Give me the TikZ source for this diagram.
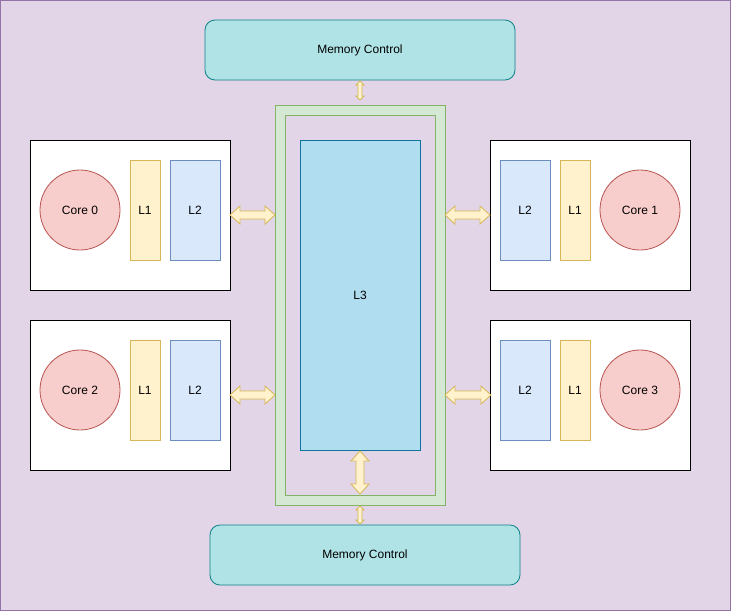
\documentclass[tikz,border=0pt]{standalone}
\usepackage{fontspec}
\setmainfont{Liberation Sans}
\begin{document}
\begin{tikzpicture}[x=1pt,y=-1pt,
  lbl/.style={font=\fontsize{12}{14}\selectfont},
  mem/.style={rectangle,rounded corners=10pt,fill=memf,draw=memd,line width=0.8pt},
  corebox/.style={fill=white,draw=black,line width=0.8pt},
  l1/.style={fill=lof,draw=lod,line width=0.8pt},
  l2/.style={fill=ltf,draw=ltd,line width=0.8pt},
  core/.style={fill=cf,draw=cd,line width=0.8pt},
  arr/.style={fill=lof,draw=lod,line width=0.8pt,line join=miter}]
\definecolor{bgf}{HTML}{E1D5E7}\definecolor{bgd}{HTML}{9673A6}
\definecolor{memf}{HTML}{B0E3E6}\definecolor{memd}{HTML}{0E8088}
\definecolor{gf}{HTML}{D5E8D4}\definecolor{gd}{HTML}{82B366}
\definecolor{l3f}{HTML}{B1DDF0}\definecolor{l3d}{HTML}{10739E}
\definecolor{lof}{HTML}{FFF2CC}\definecolor{lod}{HTML}{D6B656}
\definecolor{ltf}{HTML}{DAE8FC}\definecolor{ltd}{HTML}{6C8EBF}
\definecolor{cf}{HTML}{F8CECC}\definecolor{cd}{HTML}{B85450}
\useasboundingbox (0,0) rectangle (731,611);
\fill[bgf,draw=bgd,line width=0.8pt] (0.4,0.4) rectangle (730.6,610.6);
% memory
\draw[mem] (205,20) rectangle (515,80);
\node[lbl] (memT) at (360,50) {Memory Control};
\draw[mem] (210,525) rectangle (520,585);
\node[lbl] (memB) at (365,555) {Memory Control};
% green ring
\fill[gf,draw=gd,line width=0.8pt,even odd rule] (275,105) rectangle (445,505) (285,115) rectangle (435,495);
\draw[l3f,fill=l3f,draw=l3d,line width=0.8pt] (300,140) rectangle (420,450);
\node[lbl] (L3) at (360,295) {L3};
% core boxes
\newcommand\leftcore[3]{%
  \draw[corebox] (30,#1) rectangle (230,#1+150);
  \draw[core] (80,#1+70) circle (40);
  \node[lbl] at (80,#1+70) {#2};
  \draw[l1] (130,#1+20) rectangle (160,#1+120);
  \node[lbl] at (145,#1+70) {L1};
  \draw[l2] (170,#1+20) rectangle (220,#1+120);
  \node[lbl] at (195,#1+70) {L2};}
\newcommand\rightcore[3]{%
  \draw[corebox] (490,#1) rectangle (690,#1+150);
  \draw[core] (640,#1+70) circle (40);
  \node[lbl] at (640,#1+70) {#2};
  \draw[l1] (560,#1+20) rectangle (590,#1+120);
  \node[lbl] at (575,#1+70) {L1};
  \draw[l2] (500,#1+20) rectangle (550,#1+120);
  \node[lbl] at (525,#1+70) {L2};}
\leftcore{140}{Core 0}{}
\rightcore{140}{Core 1}{}
\leftcore{320}{Core 2}{}
\rightcore{320}{Core 3}{}
% arrows
\newcommand\harr[3]{% y, x1, x2
  \draw[arr] (#2,#1) -- (#2+10,#1-9) -- (#2+10,#1-4) -- (#3-10,#1-4) -- (#3-10,#1-9) -- (#3,#1)
   -- (#3-10,#1+9) -- (#3-10,#1+4) -- (#2+10,#1+4) -- (#2+10,#1+9) -- cycle;}
\newcommand\varr[6]{% x, y1, y2, shaft half, head half, head len
  \draw[arr] (#1,#2) -- (#1+#5,#2+#6) -- (#1+#4,#2+#6) -- (#1+#4,#3-#6) -- (#1+#5,#3-#6) -- (#1,#3)
   -- (#1-#5,#3-#6) -- (#1-#4,#3-#6) -- (#1-#4,#2+#6) -- (#1-#5,#2+#6) -- cycle;}
\harr{215}{230}{275}
\harr{215}{445}{490}
\harr{395}{230}{275}
\harr{395}{445}{491}
\varr{360}{81}{100}{2}{4}{4}
\varr{360}{506}{524}{2}{4}{4}
\varr{360}{451}{494}{4}{9}{10}
\end{tikzpicture}
\end{document}
